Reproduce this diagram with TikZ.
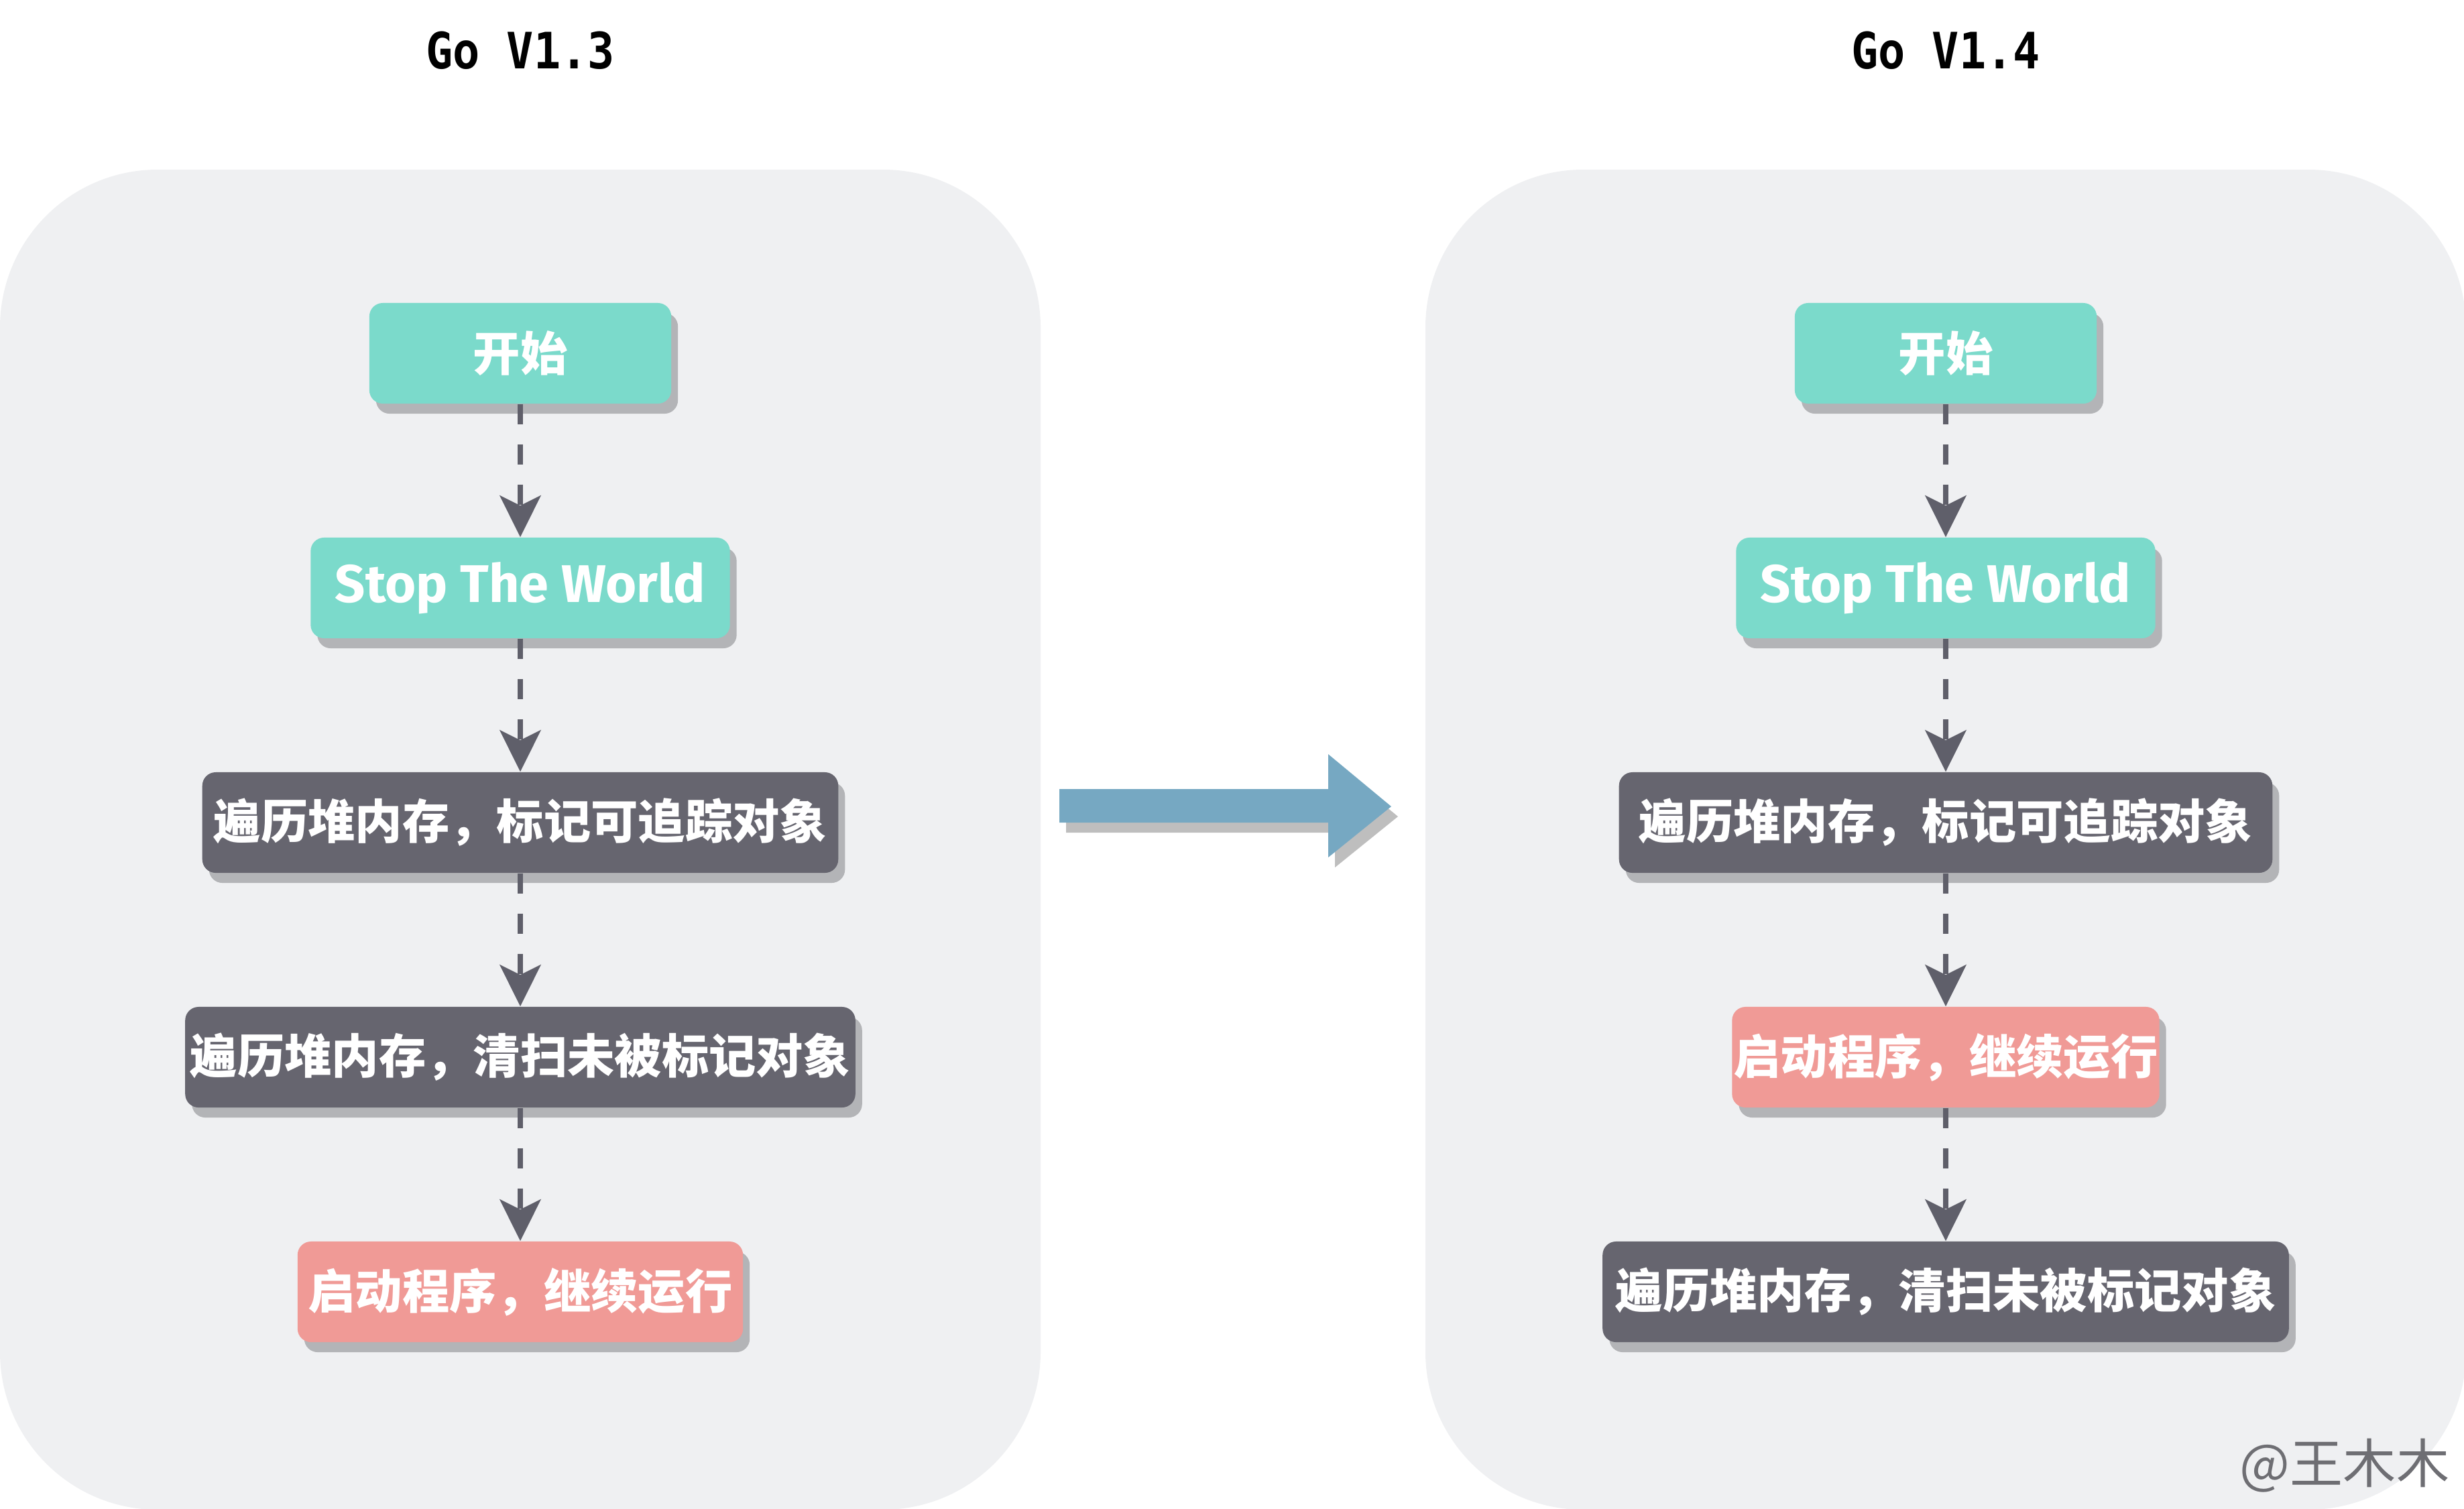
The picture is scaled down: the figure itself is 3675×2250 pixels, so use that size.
\documentclass[tikz,border=0pt]{standalone}
\usepackage{fontspec}
\usepackage{tikz}
\usetikzlibrary{arrows.meta,shadows}
\newfontfamily\cjkfont{Noto Sans CJK SC}
\newfontfamily\cjkheavy{Noto Sans CJK SC Black}
\newfontfamily\titlefont{DejaVu Sans Mono}
\newfontfamily\stwfont{Fira Sans}
\definecolor{panelgray}{HTML}{EFF0F2}
\definecolor{stageteal}{HTML}{7BDACB}
\definecolor{stagedark}{HTML}{66656F}
\definecolor{stagepink}{HTML}{F09A96}
\definecolor{stageshadow}{HTML}{B3B4B7}
\definecolor{flowgray}{HTML}{5F5F6A}
\definecolor{bigblue}{HTML}{76A8C2}
\definecolor{bigshadow}{HTML}{BEBEBE}
\definecolor{markgray}{HTML}{6E6E73}
\tikzset{
    stage/.style={
            rounded corners=0.2cm,
            inner sep=0pt,
            minimum height=1.5cm,
            text=white,
            font=\cjkheavy\fontsize{20pt}{24pt}\selectfont,
            drop shadow={shadow xshift=0.1cm, shadow yshift=-0.15cm, fill=stageshadow, opacity=1}
        },
    stage/teal/.style={stage, fill=stageteal},
    stage/dark/.style={stage, fill=stagedark},
    stage/pink/.style={stage, fill=stagepink},
    stage/stw/.style={stage/teal, font=\stwfont\bfseries\fontsize{22.5pt}{26pt}\selectfont},
    flow/.style={
            draw=flowgray,
            line width=0.08cm,
            dash pattern=on 0.3cm off 0.3cm,
            -{Stealth[length=0.62cm, width=0.61cm, inset=0.15cm]}
        },
    title/.style={font=\titlefont\bfseries\fontsize{19pt}{22pt}\selectfont}
}
\begin{document}
\begin{tikzpicture}[x=0.01cm, y=-0.01cm]
        \useasboundingbox (0,0) rectangle (3675,2250);
        \clip (0,0) rectangle (3675,2250);

        % panels
        \fill[panelgray, rounded corners=2.35cm] (0,253) rectangle (1552,2252);
        \fill[panelgray, rounded corners=2.35cm] (2126,253) rectangle (3678,2252);

        \node[title] (T1) at (776,75) {\scalebox{1}[1.12]{Go V1.3}};
        \node[title] (T2) at (2902,75) {\scalebox{1}[1.12]{Go V1.4}};

        % Go V1.3
        \node[stage/teal, minimum width=4.5cm] (L1) at (776,527) {开始};
        \node[stage/stw, minimum width=6.25cm] (L2) at (776,877) {Stop The World};
        \node[stage/dark, minimum width=9.48cm] (L3) at (776,1227) {遍历堆内存，标记可追踪对象};
        \node[stage/dark, minimum width=9.99cm] (L4) at (776,1577) {遍历堆内存，清扫未被标记对象};
        \node[stage/pink, minimum width=6.64cm] (L5) at (776,1927) {启动程序，继续运行};

        \draw[flow] (L1) -- (L2);
        \draw[flow] (L2) -- (L3);
        \draw[flow] (L3) -- (L4);
        \draw[flow] (L4) -- (L5);

        % Go V1.4
        \node[stage/teal, minimum width=4.5cm] (R1) at (2902,527) {开始};
        \node[stage/stw, minimum width=6.25cm] (R2) at (2902,877) {Stop The World};
        \node[stage/dark, minimum width=9.74cm] (R3) at (2902,1227) {遍历堆内存，标记可追踪对象};
        \node[stage/pink, minimum width=6.37cm] (R4) at (2902,1577) {启动程序，继续运行};
        \node[stage/dark, minimum width=10.23cm] (R5) at (2902,1927) {遍历堆内存，清扫未被标记对象};

        \draw[flow] (R1) -- (R2);
        \draw[flow] (R2) -- (R3);
        \draw[flow] (R3) -- (R4);
        \draw[flow] (R4) -- (R5);

        % big arrow between the panels
        \fill[bigshadow, shift={(10,15)}] (1580,1177) -- (1981,1177) -- (1981,1125) -- (2075,1203)
        -- (1981,1279) -- (1981,1227) -- (1580,1227) -- cycle;
        \fill[bigblue] (1580,1177) -- (1981,1177) -- (1981,1125) -- (2075,1203)
        -- (1981,1279) -- (1981,1227) -- (1580,1227) -- cycle;

        \node[text=markgray, font=\cjkfont\fontsize{22.5pt}{26pt}\selectfont] (M) at (3497,2186) {@王木木};

    \end{tikzpicture}
\end{document}
